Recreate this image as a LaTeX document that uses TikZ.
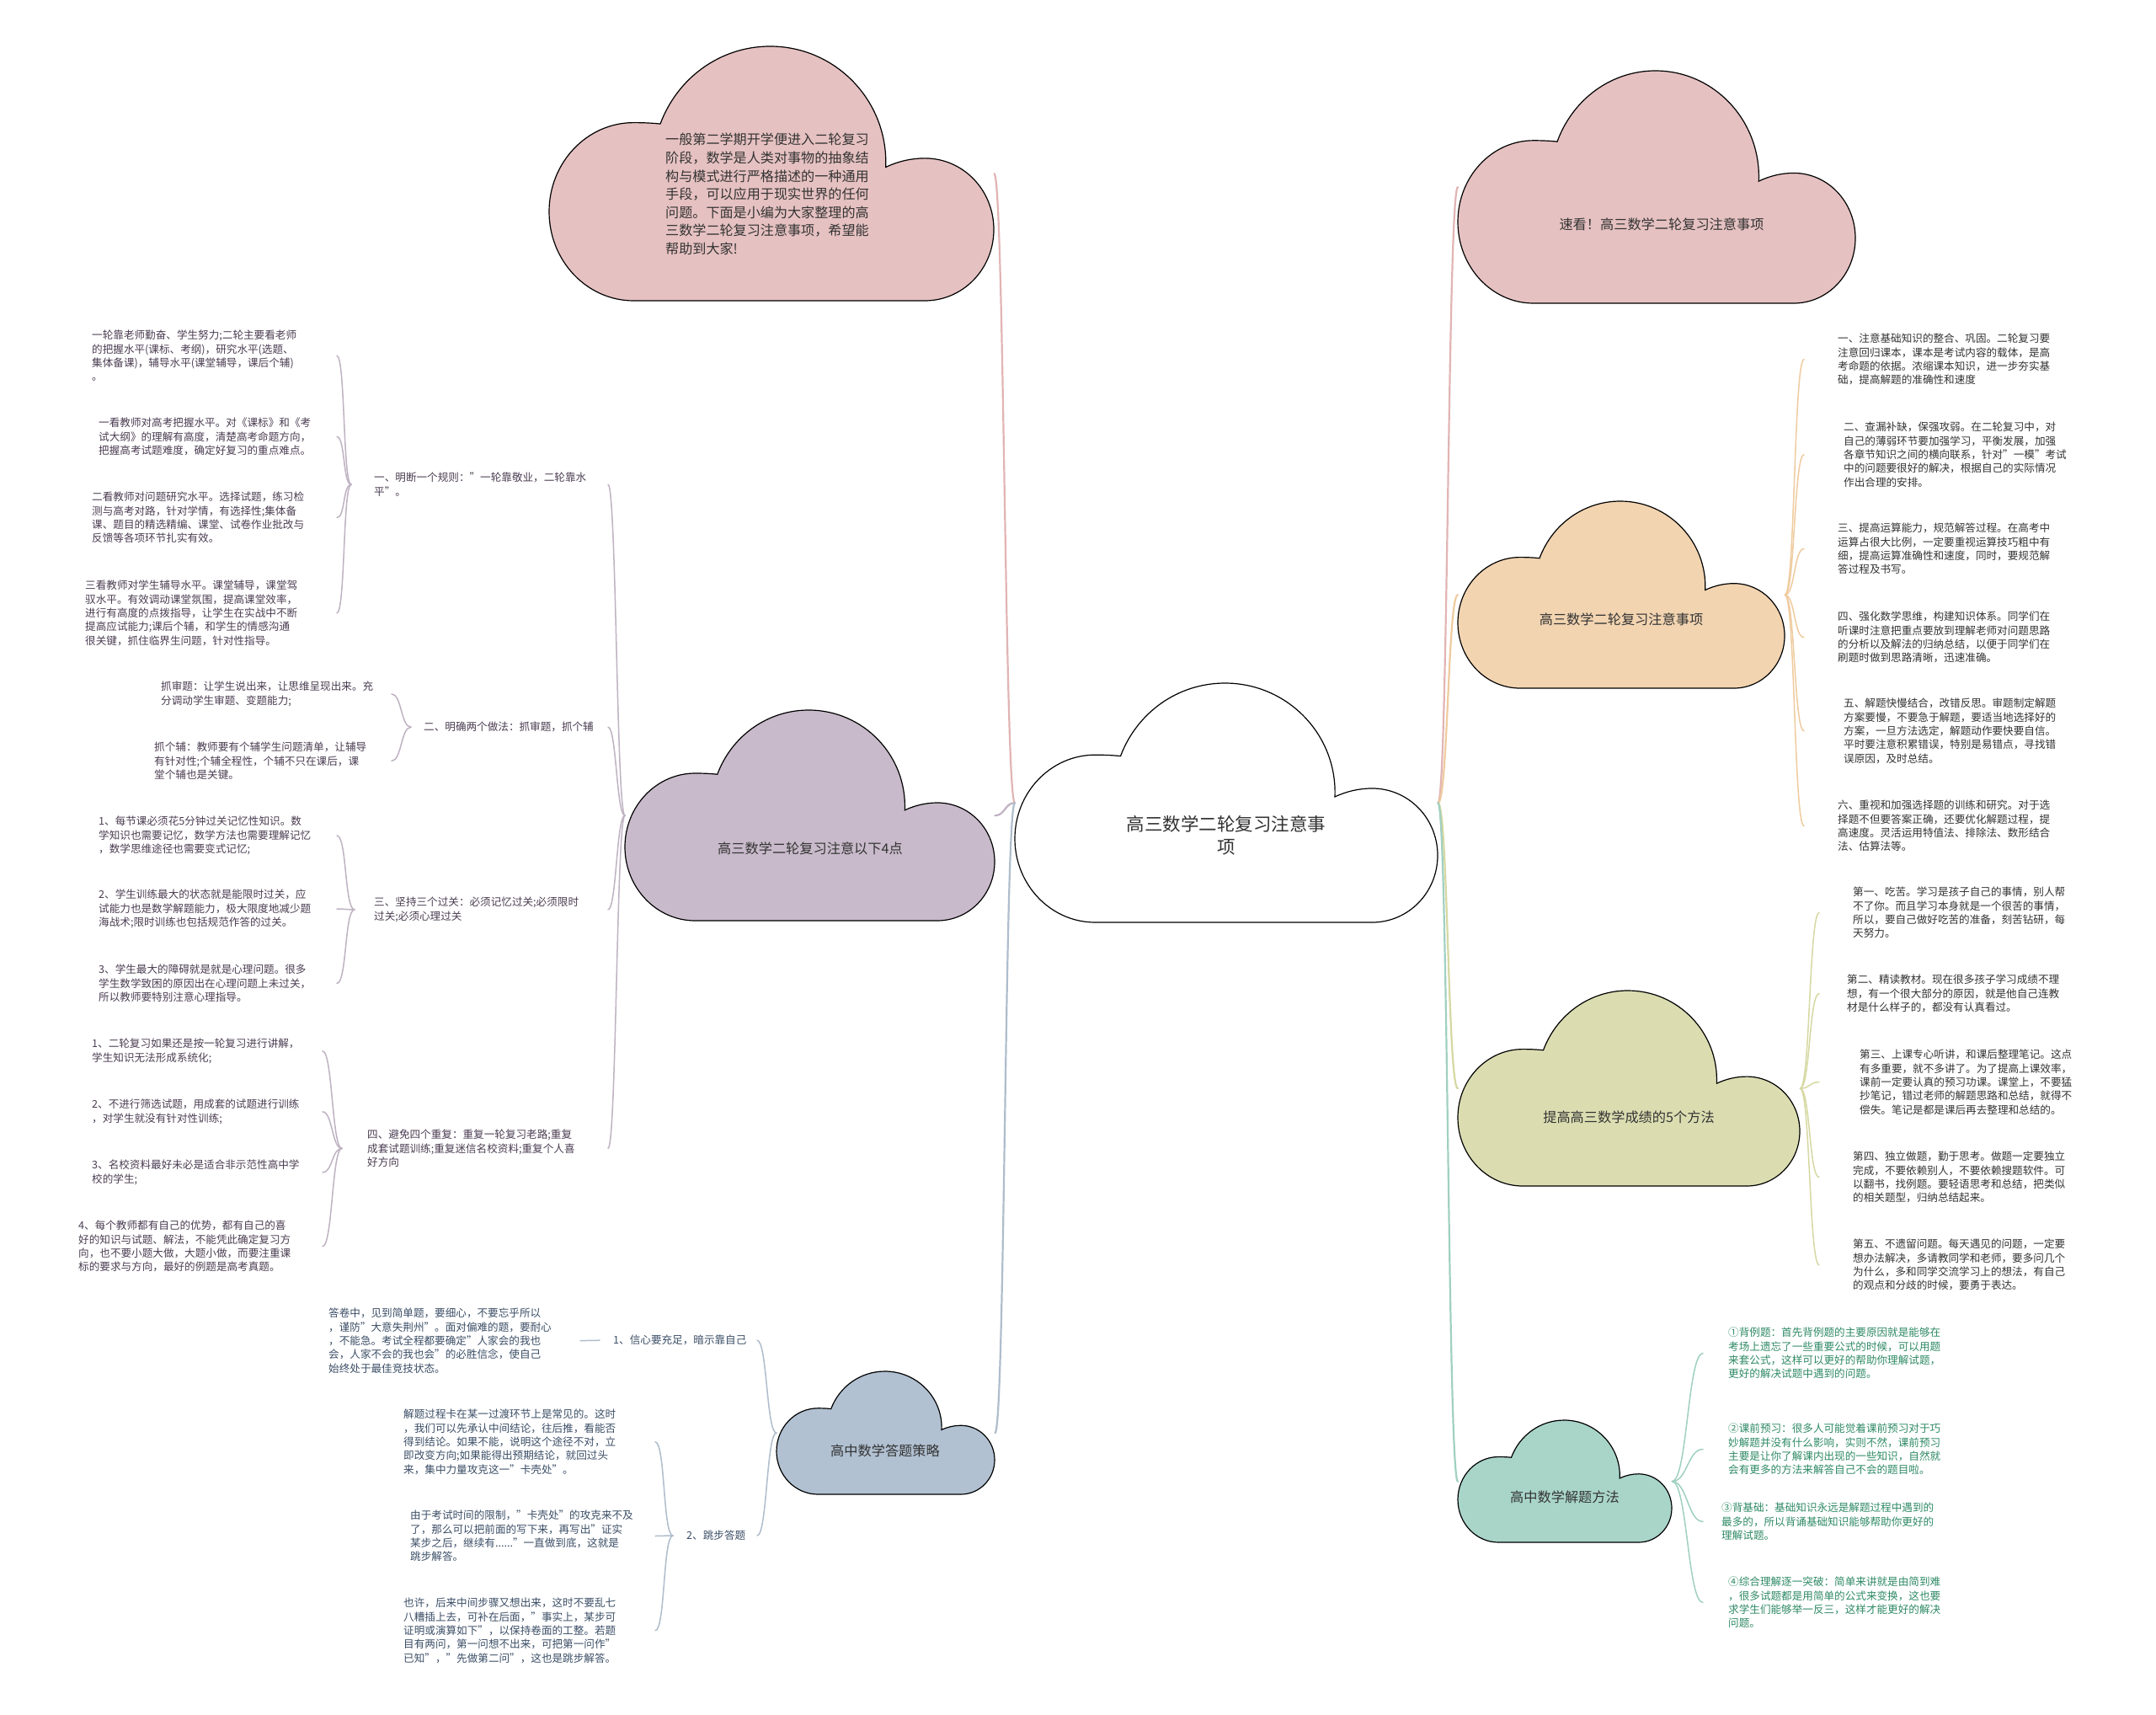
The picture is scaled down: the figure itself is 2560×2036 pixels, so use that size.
\documentclass[tikz,border=0pt]{standalone}
\usepackage{fontspec}
\setmainfont{Noto Sans CJK SC}
\usetikzlibrary{calc}
\definecolor{pinkf}{HTML}{E6C1C1}
\definecolor{purf}{HTML}{C8BACA}
\definecolor{bluf}{HTML}{B1C1D2}
\definecolor{orgf}{HTML}{F2D4B1}
\definecolor{olvf}{HTML}{DBDDB1}
\definecolor{teaf}{HTML}{A9D5C9}
\definecolor{pinkl}{HTML}{E2B4B4}
\definecolor{purl}{HTML}{BFB2C2}
\definecolor{blul}{HTML}{AFBDCC}
\definecolor{orgl}{HTML}{EFCB9F}
\definecolor{olvl}{HTML}{D6D8A2}
\definecolor{teal2}{HTML}{A0D0C1}
\definecolor{txpur}{HTML}{4B3D52}
\definecolor{txblu}{HTML}{3B4E66}
\definecolor{txgry}{HTML}{333333}
\definecolor{txtea}{HTML}{2F8A66}
\tikzset{
  tb/.style={anchor=north west,inner sep=0pt,align=left,font=\fontsize{12.6}{16.3}\selectfont},
  cl/.style={inner sep=0pt,align=center,font=\fontsize{16.2}{21}\selectfont,text=txgry},
  link/.style={line width=2.2pt,line cap=round},
  twig/.style={line width=1.5pt,line cap=round},
}
\newcommand\mmcloud[6]{%
  \begin{scope}[shift={(#2,#3)},x=#4pt,y=-#5pt]
    \filldraw[fill=#6,draw=black,line width=1.2pt]
      (0.19,1) .. controls (0.085,1) and (0,0.843) .. (0,0.65)
      .. controls (0,0.457) and (0.085,0.30) .. (0.19,0.30)
      .. controls (0.215,0.30) and (0.235,0.302) .. (0.25,0.305)
      .. controls (0.289,0.122) and (0.386,0) .. (0.497,0)
      .. controls (0.645,0) and (0.763,0.216) .. (0.757,0.475)
      .. controls (0.785,0.452) and (0.815,0.44) .. (0.845,0.44)
      .. controls (0.931,0.44) and (1,0.565) .. (1,0.72)
      .. controls (1,0.875) and (0.931,1) .. (0.845,1)
      -- cycle;
  \end{scope}
  \node[inner sep=0pt,minimum width=#4pt,minimum height=#5pt,anchor=north west] (#1) at (#2,#3) {};
}
\begin{document}
\begin{tikzpicture}[x=1pt,y=-1pt]
\useasboundingbox (0,0) rectangle (2560,2036);
\fill[white] (0,0) rectangle (2560,2036);

% ---------- clouds ----------
\mmcloud{pk1}{652}{55}{528}{302}{pinkf}
\mmcloud{pk2}{1731}{84}{472}{276}{pinkf}
\mmcloud{c0}{1205}{811}{502}{284}{white}
\mmcloud{pur}{742}{843}{439}{250}{purf}
\mmcloud{blu}{922}{1628}{259}{146}{bluf}
\mmcloud{org}{1731}{595}{388}{222}{orgf}
\mmcloud{olv}{1731}{1176}{406}{232}{olvf}
\mmcloud{tea}{1731}{1686}{254}{145}{teaf}

% ---------- cloud texts ----------
\node[tb,font=\fontsize{16.1}{21.6}\selectfont,text=txgry] (pk1t) at (790,158) {一般第二学期开学便进入二轮复习\\阶段，数学是人类对事物的抽象结\\构与模式进行严格描述的一种通用\\手段，可以应用于现实世界的任何\\问题。下面是小编为大家整理的高\\三数学二轮复习注意事项，希望能\\帮助到大家!};
\node[cl] (pk2t) at (1973,266) {速看！高三数学二轮复习注意事项};
\node[cl,font=\fontsize{21.5}{27}\selectfont] (c0t) at (1456,992) {高三数学二轮复习注意事\\项};
\node[cl] (purt) at (962,1007) {高三数学二轮复习注意以下4点};
\node[cl] (blut) at (1051,1722) {高中数学答题策略};
\node[cl] (orgt) at (1925,735) {高三数学二轮复习注意事项};
\node[cl] (olvt) at (1934,1326) {提高高三数学成绩的5个方法};
\node[cl] (teat) at (1858,1777) {高中数学解题方法};

% ---------- left (purple) branch ----------
\begin{scope}[every node/.append style={text=txpur}]
\node[tb] (L1) at (444,561) {一、明断一个规则："一轮靠敬业，二轮靠水\\平"。};
\node[tb] (L1a) at (109,392) {一轮靠老师勤奋、学生努力;二轮主要看老师\\的把握水平(课标、考纲)，研究水平(选题、\\集体备课)，辅导水平(课堂辅导，课后个辅)\\。};
\node[tb] (L1b) at (117,496) {一看教师对高考把握水平。对《课标》和《考\\试大纲》的理解有高度，清楚高考命题方向，\\把握高考试题难度，确定好复习的重点难点。};
\node[tb] (L1c) at (109,584) {二看教师对问题研究水平。选择试题，练习检\\测与高考对路，针对学情，有选择性;集体备\\课、题目的精选精编、课堂、试卷作业批改与\\反馈等各项环节扎实有效。};
\node[tb] (L1d) at (101,689) {三看教师对学生辅导水平。课堂辅导，课堂驾\\驭水平。有效调动课堂氛围，提高课堂效率，\\进行有高度的点拨指导，让学生在实战中不断\\提高应试能力;课后个辅，和学生的情感沟通\\很关键，抓住临界生问题，针对性指导。};

\node[tb] (L2) at (503,857) {二、明确两个做法：抓审题，抓个辅};
\node[tb] (L2a) at (191,809) {抓审题：让学生说出来，让思维呈现出来。充\\分调动学生审题、变题能力;};
\node[tb] (L2b) at (183,881) {抓个辅：教师要有个辅学生问题清单，让辅导\\有针对性;个辅全程性，个辅不只在课后，课\\堂个辅也是关键。};

\node[tb] (L3) at (444,1065) {三、坚持三个过关：必须记忆过关;必须限时\\过关;必须心理过关};
\node[tb] (L3a) at (117,969) {1、每节课必须花5分钟过关记忆性知识。数\\学知识也需要记忆，数学方法也需要理解记忆\\，数学思维途径也需要变式记忆;};
\node[tb] (L3b) at (117,1056) {2、学生训练最大的状态就是能限时过关，应\\试能力也是数学解题能力，极大限度地减少题\\海战术;限时训练也包括规范作答的过关。};
\node[tb] (L3c) at (117,1145) {3、学生最大的障碍就是就是心理问题。很多\\学生数学致困的原因出在心理问题上未过关，\\所以教师要特别注意心理指导。};

\node[tb] (L4) at (436,1341) {四、避免四个重复：重复一轮复习老路;重复\\成套试题训练;重复迷信名校资料;重复个人喜\\好方向};
\node[tb] (L4a) at (109,1233) {1、二轮复习如果还是按一轮复习进行讲解，\\学生知识无法形成系统化;};
\node[tb] (L4b) at (109,1305) {2、不进行筛选试题，用成套的试题进行训练\\，对学生就没有针对性训练;};
\node[tb] (L4c) at (109,1377) {3、名校资料最好未必是适合非示范性高中学\\校的学生;};
\node[tb] (L4d) at (93,1449) {4、每个教师都有自己的优势，都有自己的喜\\好的知识与试题、解法，不能凭此确定复习方\\向，也不要小题大做，大题小做，而要注重课\\标的要求与方向，最好的例题是高考真题。};
\end{scope}

% ---------- bottom-left (blue) branch ----------
\begin{scope}[every node/.append style={text=txblu}]
\node[tb] (B1) at (728,1585) {1、信心要充足，暗示靠自己};
\node[tb] (B1a) at (390,1553) {答卷中，见到简单题，要细心，不要忘乎所以\\，谨防"大意失荆州"。面对偏难的题，要耐心\\，不能急。考试全程都要确定"人家会的我也\\会，人家不会的我也会"的必胜信念，使自己\\始终处于最佳竞技状态。};
\node[tb] (B2) at (815,1817) {2、跳步答题};
\node[tb] (B2a) at (479,1673) {解题过程卡在某一过渡环节上是常见的。这时\\，我们可以先承认中间结论，往后推，看能否\\得到结论。如果不能，说明这个途径不对，立\\即改变方向;如果能得出预期结论，就回过头\\来，集中力量攻克这一"卡壳处"。};
\node[tb] (B2b) at (487,1793) {由于考试时间的限制，"卡壳处"的攻克来不及\\了，那么可以把前面的写下来，再写出"证实\\某步之后，继续有......"一直做到底，这就是\\跳步解答。};
\node[tb] (B2c) at (479,1897) {也许，后来中间步骤又想出来，这时不要乱七\\八糟插上去，可补在后面，"事实上，某步可\\证明或演算如下"，以保持卷面的工整。若题\\目有两问，第一问想不出来，可把第一问作"\\已知"，"先做第二问"，这也是跳步解答。};
\end{scope}

% ---------- right (orange) branch ----------
\begin{scope}[every node/.append style={text=txgry}]
\node[tb] (R1) at (2182,396) {一、注意基础知识的整合、巩固。二轮复习要\\注意回归课本，课本是考试内容的载体，是高\\考命题的依据。浓缩课本知识，进一步夯实基\\础，提高解题的准确性和速度};
\node[tb] (R2) at (2189,501) {二、查漏补缺，保强攻弱。在二轮复习中，对\\自己的薄弱环节要加强学习，平衡发展，加强\\各章节知识之间的横向联系，针对"一模"考试\\中的问题要很好的解决，根据自己的实际情况\\作出合理的安排。};
\node[tb] (R3) at (2182,621) {三、提高运算能力，规范解答过程。在高考中\\运算占很大比例，一定要重视运算技巧粗中有\\细，提高运算准确性和速度，同时，要规范解\\答过程及书写。};
\node[tb] (R4) at (2182,726) {四、强化数学思维，构建知识体系。同学们在\\听课时注意把重点要放到理解老师对问题思路\\的分析以及解法的归纳总结，以便于同学们在\\刷题时做到思路清晰，迅速准确。};
\node[tb] (R5) at (2189,829) {五、解题快慢结合，改错反思。审题制定解题\\方案要慢，不要急于解题，要适当地选择好的\\方案，一旦方法选定，解题动作要快要自信。\\平时要注意积累错误，特别是易错点，寻找错\\误原因，及时总结。};
\node[tb] (R6) at (2182,950) {六、重视和加强选择题的训练和研究。对于选\\择题不但要答案正确，还要优化解题过程，提\\高速度。灵活运用特值法、排除法、数形结合\\法、估算法等。};

% olive
\node[tb] (O1) at (2200,1053) {第一、吃苦。学习是孩子自己的事情，别人帮\\不了你。而且学习本身就是一个很苦的事情，\\所以，要自己做好吃苦的准备，刻苦钻研，每\\天努力。};
\node[tb] (O2) at (2193,1157) {第二、精读教材。现在很多孩子学习成绩不理\\想，有一个很大部分的原因，就是他自己连教\\材是什么样子的，都没有认真看过。};
\node[tb] (O3) at (2208,1246) {第三、上课专心听讲，和课后整理笔记。这点\\有多重要，就不多讲了。为了提高上课效率，\\课前一定要认真的预习功课。课堂上，不要猛\\抄笔记，错过老师的解题思路和总结，就得不\\偿失。笔记是都是课后再去整理和总结的。};
\node[tb] (O4) at (2200,1367) {第四、独立做题，勤于思考。做题一定要独立\\完成，不要依赖别人，不要依赖搜题软件。可\\以翻书，找例题。要轻语思考和总结，把类似\\的相关题型，归纳总结起来。};
\node[tb] (O5) at (2200,1471) {第五、不遗留问题。每天遇见的问题，一定要\\想办法解决，多请教同学和老师，要多问几个\\为什么，多和同学交流学习上的想法，有自己\\的观点和分歧的时候，要勇于表达。};
\end{scope}

% teal
\begin{scope}[every node/.append style={text=txtea}]
\node[tb] (T1) at (2052,1576) {①背例题：首先背例题的主要原因就是能够在\\考场上遗忘了一些重要公式的时候，可以用题\\来套公式，这样可以更好的帮助你理解试题，\\更好的解决试题中遇到的问题。};
\node[tb] (T2) at (2052,1690) {②课前预习：很多人可能觉着课前预习对于巧\\妙解题并没有什么影响，实则不然，课前预习\\主要是让你了解课内出现的一些知识，自然就\\会有更多的方法来解答自己不会的题目啦。};
\node[tb] (T3) at (2044,1784) {③背基础：基础知识永远是解题过程中遇到的\\最多的，所以背诵基础知识能够帮助你更好的\\理解试题。};
\node[tb] (T4) at (2052,1872) {④综合理解逐一突破：简单来讲就是由简到难\\，很多试题都是用简单的公式来变换，这也要\\求学生们能够举一反三，这样才能更好的解决\\问题。};
\end{scope}

% ---------- first-level links ----------
\draw[link,pinkl] (c0.west) .. controls +(-12,0) and +(12,0) .. (pk1.east);
\draw[link,purl] (c0.west) .. controls +(-12,0) and +(12,0) .. (pur.east);
\draw[link,blul] (c0.west) .. controls +(-12,0) and +(12,0) .. (blu.east);
\draw[link,pinkl] (c0.east) .. controls +(12,0) and +(-12,0) .. (pk2.west);
\draw[link,orgl] (c0.east) .. controls +(12,0) and +(-12,0) .. (org.west);
\draw[link,olvl] (c0.east) .. controls +(12,0) and +(-12,0) .. (olv.west);
\draw[link,teal2] (c0.east) .. controls +(12,0) and +(-12,0) .. (tea.west);

% ---------- end coordinates ----------
\coordinate (eA) at (400,0);
\coordinate (eB) at (465,0);
\coordinate (eC) at (383,0);
\coordinate (eD) at (722,0);
\coordinate (eE) at (689,0);
\coordinate (eF) at (778,0);
\coordinate (eG) at (899,0);
\coordinate (eH) at (2142,0);
\coordinate (eI) at (2160,0);
\coordinate (eJ) at (2022,0);

% purple cloud -> labels
\foreach \nn in {L1,L2,L3,L4}
  \draw[twig,purl] (pur.west) .. controls +(-10,0) and +(10,0) .. (\nn.east -| eD);
\coordinate (jL1) at ($(L1.west)+(-27,0)$);
\coordinate (jL2) at ($(L2.west)+(-15,0)$);
\coordinate (jL3) at ($(L3.west)+(-23,0)$);
\coordinate (jL4) at ($(L4.west)+(-30,0)$);
\foreach \nn in {L1a,L1b,L1c,L1d}
  \draw[twig,purl] (jL1) .. controls +(-10,0) and +(10,0) .. (\nn.east -| eA);
\foreach \nn in {L2a,L2b}
  \draw[twig,purl] (jL2) .. controls +(-12,0) and +(12,0) .. (\nn.east -| eB);
\foreach \nn in {L3a,L3b,L3c}
  \draw[twig,purl] (jL3) .. controls +(-12,0) and +(12,0) .. (\nn.east -| eA);
\foreach \nn in {L4a,L4b,L4c,L4d}
  \draw[twig,purl] (jL4) .. controls +(-12,0) and +(12,0) .. (\nn.east -| eC);

% blue
\foreach \nn in {B1,B2}
  \draw[twig,blul] (blu.west) .. controls +(-12,0) and +(12,0) .. (\nn.east -| eG);
\coordinate (jB1) at ($(B1.west)+(-16,0)$);
\draw[twig,blul] (jB1) -- (B1a.east -| eE);
\coordinate (jB2) at ($(B2.west)+(-16,0)$);
\foreach \nn in {B2a,B2b,B2c}
  \draw[twig,blul] (jB2) .. controls +(-12,0) and +(12,0) .. (\nn.east -| eF);

% orange
\foreach \nn in {R1,R2,R3,R4,R5,R6}
  \draw[twig,orgl] (org.east) .. controls +(12,0) and +(-12,0) .. (\nn.west -| eH);
% olive
\foreach \nn in {O1,O2,O3,O4,O5}
  \draw[twig,olvl] (olv.east) .. controls +(12,0) and +(-12,0) .. (\nn.west -| eI);
% teal
\foreach \nn in {T1,T2,T3,T4}
  \draw[twig,teal2] (tea.east) .. controls +(18,0) and +(-18,0) .. (\nn.west -| eJ);
\end{tikzpicture}
\end{document}
